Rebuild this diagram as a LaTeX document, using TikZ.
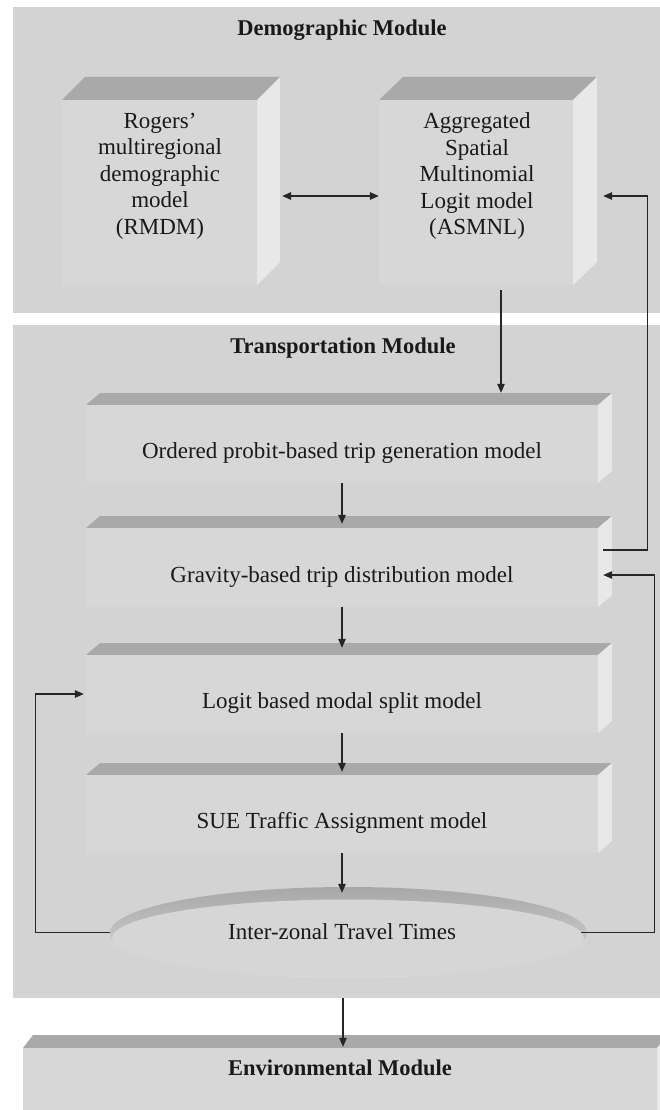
\documentclass[tikz,border=0pt]{standalone}
\usepackage{fontspec}
\setmainfont{Liberation Serif}
\usetikzlibrary{arrows.meta,calc,shapes.geometric}
\definecolor{panelc}{HTML}{D3D3D3}
\definecolor{frontc}{HTML}{D7D7D7}
\definecolor{topc}{HTML}{A9A9A9}
\definecolor{sidec}{HTML}{E8E8E8}
\definecolor{rimc}{HTML}{A8A8A8}
\definecolor{rimlow}{HTML}{DADADA}
\definecolor{dishc}{HTML}{D6D6D6}
\tikzset{
  panelbox/.style={rectangle, fill=panelc, draw=none, inner sep=0pt},
  frontbox/.style={rectangle, fill=frontc, draw=none, inner sep=0pt},
  txt/.style={font=\fontsize{23}{26.5}\selectfont, align=center, inner sep=0pt, text=black!90},
  ttl/.style={font=\fontsize{22.5}{26}\selectfont\bfseries, inner sep=0pt, text=black!90},
  arr/.style={-{Triangle[length=9pt,width=7.5pt]}, line width=1.3pt, black!85},
  darr/.style={{Triangle[length=9pt,width=7.5pt]}-{Triangle[length=9pt,width=7.5pt]}, line width=1.5pt, black!85},
}
% name, x1, y1, x2, y2, dx, dy
\newcommand\drawcube[7]{%
  \fill[topc] (#2,#3) -- (#2+#6,#3-#7) -- (#4+#6,#3-#7) -- (#4,#3) -- cycle;
  \fill[sidec] (#4,#3) -- (#4+#6,#3-#7) -- (#4+#6,#5-#7) -- (#4,#5) -- cycle;
  \node[frontbox, minimum width={(#4-#2)*1pt}, minimum height={(#5-#3)*1pt}] (#1) at ({(#2+#4)/2},{(#3+#5)/2}) {};
}
\begin{document}
\begin{tikzpicture}[x=1pt,y=-1pt]
\useasboundingbox (0,0) rectangle (660,1110);
\clip (0,0) rectangle (660,1110);
\fill[white] (0,0) rectangle (660,1110);

% panels
\node[panelbox, minimum width=660pt, minimum height=306pt] (demo) at (343,160) {};
\node[panelbox, minimum width=660pt, minimum height=673pt] (transp) at (343,661.5) {};
\node[ttl] (demotitle) at (342,30) {Demographic Module};
\node[ttl] (transptitle) at (343,348) {Transportation Module};

% demographic cubes
\drawcube{rmdm}{62}{100}{257}{285}{23}{23}
\drawcube{asmnl}{379}{100}{573}{285}{24}{23}
\node[txt] (rmdmtext) at (160,176) {Rogers'\\multiregional\\demographic\\model\\(RMDM)};
\node[txt] (asmnltext) at (477,176) {Aggregated\\Spatial\\Multinomial\\Logit model\\(ASMNL)};

% transportation cubes
\drawcube{ordered}{86}{405}{598}{483}{14}{12}
\drawcube{gravity}{86}{528}{598}{607}{14}{12}
\drawcube{logit}{86}{655}{598}{733}{14}{12}
\drawcube{sue}{86}{775}{598}{853}{14}{12}
\node[txt] (orderedtext) at (342,453) {Ordered probit-based trip generation model};
\node[txt] (gravitytext) at (342,577) {Gravity-based trip distribution model};
\node[txt] (logittext) at (342,703) {Logit based modal split model};
\node[txt] (suetext) at (342,823) {SUE Traffic Assignment model};

% dish
\shade[top color=rimc, bottom color=rimlow] (348.5,932.5) ellipse [x radius=238.5, y radius=45.5];
\fill[dishc] (348,938) ellipse [x radius=236, y radius=38.5];
\node[ellipse, minimum width=477pt, minimum height=91pt, inner sep=0pt] (itt) at (348.5,932.5) {};
\node[txt] (itttext) at (342,932) {Inter-zonal Travel Times};

% environmental
\drawcube{env}{23}{1048}{657}{1120}{10}{13}
\node[ttl] (envtext) at (340,1068) {Environmental Module};

% connectors
\draw[darr] ($(rmdm.east)+(25,3.5)$) -- ($(asmnl.west)+(0,3.5)$);
\draw[arr] ($(asmnl.south)+(25,5)$) -- ($(asmnl.south |- ordered.north)+(25,-12)$);
\draw[arr] ($(gravity.east)+(5,-17.5)$) -- ++(44,0) |- ($(asmnl.east)+(30,3.5)$);
\draw[arr] (ordered.south) -- ($(gravity.north)+(0,-4)$);
\draw[arr] (gravity.south) -- ($(logit.north)+(0,-7)$);
\draw[arr] (logit.south) -- ($(sue.north)+(0,-3)$);
\draw[arr] (sue.south) -- ($(sue.south |- itt.north)+(0,6)$);
\draw[arr] (itt.west) -- ++(-74,0) |- ($(logit.west)+(-2,0)$);
\draw[arr] ($(itt.east)+(-6,0)$) -- ++(73,0) |- ($(gravity.east)+(5,7.5)$);
\draw[arr] (transp.south) -- ($(transp.south |- env.north)+(0,-1)$);
\end{tikzpicture}
\end{document}
